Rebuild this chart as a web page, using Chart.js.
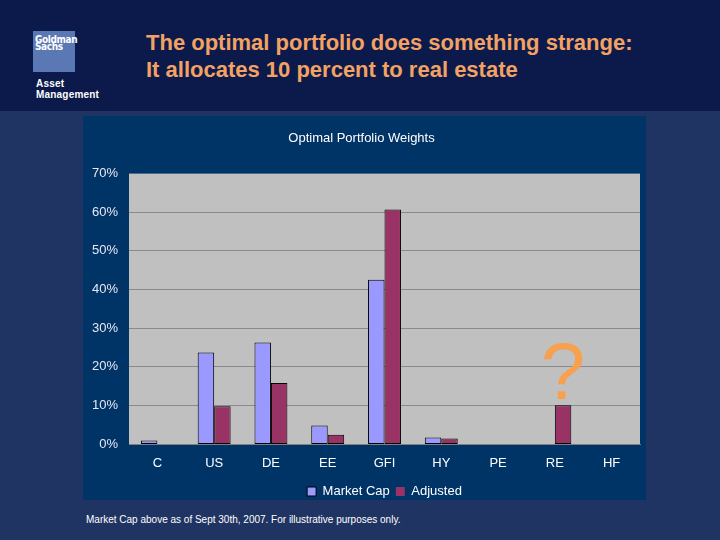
<!DOCTYPE html>
<html>
<head>
<meta charset="utf-8">
<script src="https://cdn.jsdelivr.net/npm/chart.js@4"></script>
<style>
  html, body { margin:0; padding:0; }
  body { width:720px; height:540px; background:#1f3462; position:relative; overflow:hidden; font-family:Arial, "Liberation Sans", sans-serif; }
  #header { position:absolute; left:0; top:0; width:720px; height:111px; background:#0b1a4b; }
  #logo { position:absolute; left:33px; top:31px; width:42px; height:41px; background:#5a78b3; }
  #logo div { position:absolute; left:2px; color:#fff; font-family:"Liberation Sans Narrow","DejaVu Sans Condensed",Arial,sans-serif; font-size:10px; line-height:7px; letter-spacing:-0.4px; font-weight:bold; }
  .am { position:absolute; left:36px; color:#fff; font-weight:bold; font-size:10px; font-family:"Liberation Sans Narrow", Arial, sans-serif; letter-spacing:0.2px; }
  #title { position:absolute; left:146px; top:29px; color:#f3a264; font-weight:bold; font-size:22px; line-height:27px; }
  #panel { position:absolute; left:83px; top:116px; width:563px; height:384px; background:#003366; }
  #c { position:absolute; left:83px; top:116px; }
  #foot { position:absolute; left:86px; top:514px; color:#fff; font-size:10px; }
</style>
</head>
<body>
<div id="header">
  <div id="logo"><div style="top:5px">Goldman</div><div style="top:12px">Sachs</div></div>
  <div class="am" style="top:78px">Asset</div>
  <div class="am" style="top:89px">Management</div>
  <div id="title">The optimal portfolio does something strange:<br>It allocates 10 percent to real estate</div>
</div>
<div id="panel"></div>
<canvas id="c" width="563" height="392"></canvas>
<div id="foot">Market Cap above as of Sept 30th, 2007. For illustrative purposes only.</div>
<script>
const categories = ['C','US','DE','EE','GFI','HY','PE','RE','HF'];
const marketCap = [0.9, 23.7, 26.3, 4.8, 42.5, 1.7, 0, 0, 0];
const adjusted  = [0, 9.8, 15.8, 2.4, 60.7, 1.4, 0, 10.0, 0];
const yTicks = [0, 10, 20, 30, 40, 50, 60, 70];
const chartTitle = 'Optimal Portfolio Weights';
const seriesNames = ['Market Cap', 'Adjusted'];
const annotationText = '?';
const annotationCategory = 'RE';

const plotBg = {
  id: 'plotBg',
  beforeDraw(chart) {
    const {ctx, chartArea:a} = chart;
    ctx.save();
    ctx.fillStyle = '#c0c0c0';
    ctx.fillRect(a.left, a.top, a.right - a.left, a.bottom - a.top);
    ctx.restore();
  },
  afterDatasetsDraw(chart) {
    const idx = categories.indexOf(annotationCategory);
    const meta = chart.getDatasetMeta(1);
    const bar = meta.data[idx];
    const {ctx} = chart;
    ctx.save();
    ctx.fillStyle = '#f7a04e';
    ctx.font = '80px Arial, "Liberation Sans", sans-serif';
    ctx.textAlign = 'center';
    ctx.textBaseline = 'alphabetic';
    ctx.fillText(annotationText, bar.x, bar.y - 6);
    ctx.restore();
  }
};

const fontFam = 'Arial, "Liberation Sans", sans-serif';
const zeroless = c => (c.raw === 0 ? 0 : 1);

new Chart(document.getElementById('c'), {
  type: 'bar',
  data: {
    labels: categories,
    datasets: [
      { label: seriesNames[0], data: marketCap, backgroundColor: '#9999ff', borderColor: '#000', borderWidth: zeroless, borderSkipped: false },
      { label: seriesNames[1], data: adjusted, backgroundColor: '#993366', borderColor: '#000', borderWidth: zeroless, borderSkipped: false }
    ]
  },
  options: {
    responsive: false,
    animation: false,
    devicePixelRatio: 1,
    layout: { padding: { left: 0, right: 6, top: 0, bottom: 0 } },
    datasets: { bar: { categoryPercentage: 0.58, barPercentage: 1.0 } },
    plugins: {
      title: { display: true, text: chartTitle, color: '#ffffff', font: { family: fontFam, size: 13, weight: 'normal' }, padding: { top: 15, bottom: 27 } },
      legend: {
        position: 'bottom', fullSize: false,
        labels: { color: '#ffffff', font: { family: fontFam, size: 13 }, boxWidth: 9, boxHeight: 9, padding: 6 }
      },
      tooltip: { enabled: false }
    },
    scales: {
      x: {
        grid: { display: false, drawTicks: false },
        border: { display: true, color: '#808080', width: 1 },
        ticks: { color: '#ffffff', font: { family: fontFam, size: 13 }, padding: 12, maxRotation: 0 },
        afterFit(s) { s.height = 35; }
      },
      y: {
        min: 0, max: 70,
        afterBuildTicks(s) { s.ticks = yTicks.map(v => ({ value: v })); },
        grid: { color: '#8a8a8a', drawTicks: false, lineWidth: c => (c.tick.value === 0 || c.tick.value === 70 ? 0 : 1) },
        border: { display: false },
        ticks: { color: '#e8e8f4', font: { family: fontFam, size: 13 }, padding: 11, callback: v => v + '%' },
        afterFit(s) { s.width = 46; }
      }
    }
  },
  plugins: [plotBg]
});
</script>
</body>
</html>
